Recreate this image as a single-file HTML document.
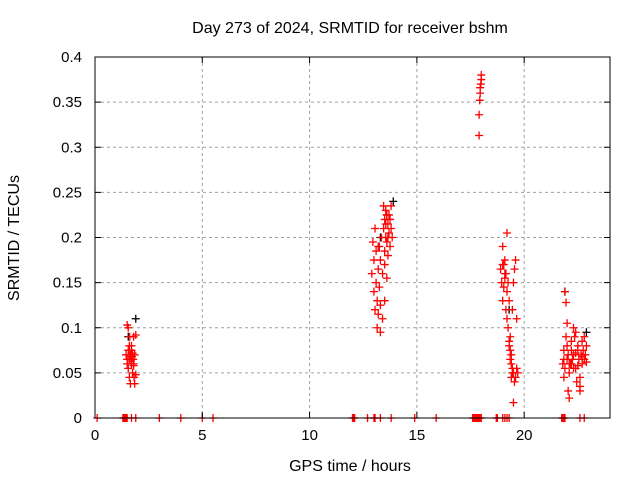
<!DOCTYPE html>
<html><head><meta charset="utf-8"><style>
body{margin:0;background:#fff}
svg{display:block;font-family:"Liberation Sans",sans-serif}
</style></head><body>
<svg id="chart" width="640" height="480" xmlns="http://www.w3.org/2000/svg">
<text x="350" y="33" font-size="16" text-anchor="middle">Day 273 of 2024, SRMTID for receiver bshm</text>
<text x="350" y="471" font-size="16" text-anchor="middle">GPS time / hours</text>
<text x="19" y="238" font-size="16" text-anchor="middle" transform="rotate(-90 19 238)">SRMTID / TECUs</text>
<g id="grid"></g><g id="black"></g><g id="red"></g><g id="frame"></g>
</svg>
<script>
const xTicks=[0,5,10,15,20];
const yTicks=[0,0.05,0.1,0.15,0.2,0.25,0.3,0.35,0.4];
const yTickLabels=["0","0.05","0.1","0.15","0.2","0.25","0.3","0.35","0.4"];
const redX=[1.45,1.5,1.5,1.55,1.55,1.6,1.6,1.62,1.65,1.65,1.7,1.7,1.72,1.75,1.75,1.78,1.8,1.8,1.82,1.85,1.85,1.9,1.9,1.55,1.6,1.68,1.5,1.58,1.7,1.8,
12.9,12.95,13.0,13.0,13.05,13.05,13.1,13.1,13.15,13.15,13.2,13.2,13.25,13.25,13.3,13.3,13.35,13.4,13.45,13.5,13.5,13.55,13.55,13.6,13.6,13.65,13.65,13.7,13.7,13.75,13.8,13.8,13.85,13.3,13.4,13.5,13.6,13.2,13.45,13.55,13.65,13.75,13.5,13.6,
17.9,17.9,17.93,17.95,17.95,17.98,18.0,18.0,
18.9,18.95,19.0,19.0,19.05,19.05,19.1,19.1,19.15,19.15,19.2,19.2,19.25,19.25,19.3,19.3,19.35,19.35,19.4,19.4,19.45,19.45,19.5,19.5,19.55,19.55,19.6,19.6,19.65,19.65,19.7,19.5,19.4,19.3,19.2,19.1,19.0,19.35,19.45,
21.8,21.85,21.85,21.9,21.9,21.95,21.95,22.0,22.0,22.05,22.05,22.1,22.1,22.15,22.2,22.2,22.25,22.3,22.3,22.35,22.4,22.4,22.45,22.5,22.5,22.55,22.6,22.6,22.65,22.7,22.7,22.75,22.8,22.8,22.85,22.9,22.9,22.0,22.2,22.4,22.6,21.85,22.1,22.3,22.5,22.7,
0.1,1.3,1.35,1.4,1.45,1.5,1.7,1.9,3,4,5,5.5,12,12.05,12.1,12.7,13,13.05,13.3,13.8,14.9,15.9,17.6,17.65,17.7,17.75,17.8,17.85,17.9,17.95,18.0,18.7,18.75,19.0,19.1,19.2,19.3,21.75,21.8,21.85,21.9,22.6,22.8];
const redY=[0.07,0.103,0.06,0.075,0.055,0.065,0.045,0.09,0.07,0.038,0.08,0.06,0.068,0.072,0.05,0.065,0.09,0.058,0.045,0.07,0.038,0.092,0.048,0.1,0.08,0.063,0.065,0.07,0.075,0.06,
0.16,0.195,0.175,0.14,0.21,0.12,0.185,0.15,0.13,0.1,0.165,0.115,0.19,0.145,0.175,0.125,0.2,0.16,0.235,0.22,0.185,0.23,0.2,0.225,0.195,0.215,0.18,0.205,0.225,0.19,0.21,0.235,0.2,0.095,0.11,0.17,0.155,0.19,0.21,0.215,0.2,0.22,0.13,0.225,
0.313,0.336,0.352,0.36,0.366,0.37,0.375,0.38,
0.165,0.15,0.19,0.13,0.17,0.145,0.175,0.155,0.16,0.12,0.205,0.14,0.15,0.1,0.13,0.08,0.09,0.065,0.06,0.045,0.12,0.055,0.15,0.05,0.165,0.04,0.175,0.045,0.11,0.055,0.05,0.017,0.07,0.085,0.11,0.16,0.17,0.075,0.05,
0.06,0.045,0.075,0.14,0.055,0.128,0.09,0.105,0.065,0.03,0.07,0.022,0.05,0.06,0.085,0.075,0.065,0.1,0.055,0.09,0.095,0.072,0.04,0.08,0.058,0.065,0.03,0.045,0.07,0.085,0.06,0.075,0.09,0.065,0.07,0.08,0.062,0.08,0.06,0.055,0.035,0.065,0.06,0.07,0.075,0.068,
0,0,0,0,0,0,0,0,0,0,0,0,0,0,0,0,0,0,0,0,0,0,0,0,0,0,0,0,0,0,0,0,0,0,0,0,0,0,0,0,0,0,0];
const blackX=[1.55,1.9,13.3,13.9,19.3,21.9,22.9];
const blackY=[0.09,0.11,0.2,0.24,0.12,0.14,0.095];
const L=95,R=610,T=57,B=418,X0=0,X1=24,Y0=0,Y1=0.4;
const sx=v=>L+(v-X0)/(X1-X0)*(R-L);
const sy=v=>B-(v-Y0)/(Y1-Y0)*(B-T);
const NS='http://www.w3.org/2000/svg';
function mk(tag,parent,attrs){const e=document.createElementNS(NS,tag);for(const k in attrs)e.setAttribute(k,attrs[k]);parent.appendChild(e);return e;}
const grid=document.getElementById('grid'),frame=document.getElementById('frame');
xTicks.forEach(t=>{
  const x=sx(t);
  if(t>X0){const g=mk('line',grid,{x1:x,x2:x,y1:T,y2:B,stroke:'#a0a0a0','stroke-dasharray':'3,3'});
  
  }
  mk('line',frame,{x1:x,x2:x,y1:B,y2:B-6,stroke:'#000'});
  mk('line',frame,{x1:x,x2:x,y1:T,y2:T+6,stroke:'#000'});
  const tx=mk('text',frame,{x:x,y:B+22,'font-size':15,'text-anchor':'middle'});
  tx.textContent=t;
  
  
});
yTicks.forEach((t,i)=>{
  const y=sy(t);
  if(t>Y0&&t<Y1){const g=mk('line',grid,{x1:L,x2:R,y1:y,y2:y,stroke:'#a0a0a0','stroke-dasharray':'3,3'});
  
  }
  mk('line',frame,{x1:L,x2:L+6,y1:y,y2:y,stroke:'#000'});
  mk('line',frame,{x1:R,x2:R-6,y1:y,y2:y,stroke:'#000'});
  const tx=mk('text',frame,{x:L-13,y:y+5,'font-size':15,'text-anchor':'end'});
  tx.textContent=yTickLabels[i];
  
  
});
const fr=mk('rect',frame,{x:L,y:T,width:R-L,height:B-T,fill:'none',stroke:'#000'});


function plus(g,x,y,c){const p=mk('path',g,{d:`M${x-4},${y}h8M${x},${y-4}v8`,stroke:c,'stroke-width':1.3});return p;}
const bg=document.getElementById('black');
blackX.forEach((v,i)=>{const p=plus(bg,sx(v),sy(blackY[i]),'#000');

});
const rg=document.getElementById('red');
redX.forEach((v,i)=>{const p=plus(rg,sx(v),sy(redY[i]),'#f00');

});
</script>
</body></html>
